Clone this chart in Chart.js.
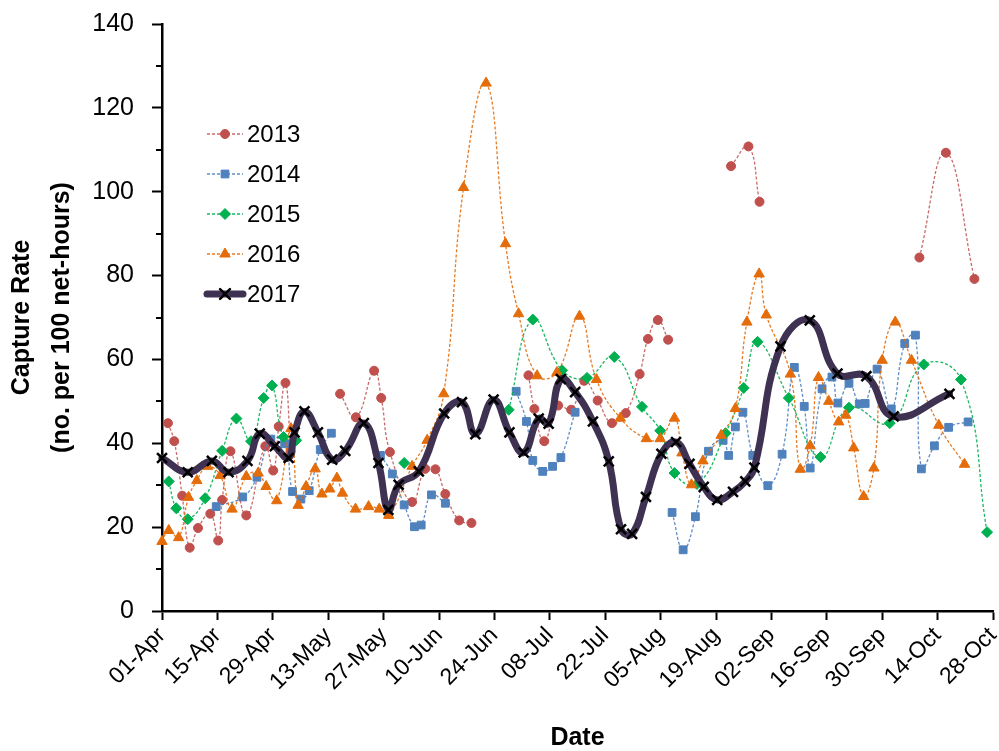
<!DOCTYPE html>
<html>
<head>
<meta charset="utf-8">
<title>Capture Rate</title>
<script src="https://cdn.jsdelivr.net/npm/chart.js@4.4.1/dist/chart.umd.min.js"></script>
<style>
  html, body { margin: 0; padding: 0; background: #fff; }
</style>
</head>
<body>
<canvas id="chart" width="999" height="751"></canvas>
<script>
// x axis: days since 01-Apr, one label every 14 days
const dateLabels = ["01-Apr", "15-Apr", "29-Apr", "13-May", "27-May", "10-Jun", "24-Jun", "08-Jul",
  "22-Jul", "05-Aug", "19-Aug", "02-Sep", "16-Sep", "30-Sep", "14-Oct", "28-Oct"];

// null = no sampling (gap in the line)
const days2013 = [1.5, 3.1, 5.1, 7.0, 9.1, 12.2, 14.2, 15.2, 17.3, 21.3, 26.1, 28.1, 29.5, 31.2, 32.5,
  38,
  45.0, 49.0, 53.6, 55.4, 57.6, 63.2, 66.5, 69.1, 71.6, 75.1, 78.2,
  85,
  92.6, 94.1, 96.6, 100.1, 103.4, 106.7, 110.1, 113.7, 117.2, 120.7, 122.8, 125.3, 127.9,
  135,
  143.8, 148.2, 151.0,
  170,
  191.4, 198.1, 205.3];
const rate2013 = [44.8, 40.5, 27.5, 15.1, 19.8, 23.2, 16.8, 26.5, 38.1, 22.8, 39.3, 33.5, 44.0, 54.4, 38.0,
  null,
  51.8, 46.2, 57.3, 50.8, 37.9, 26.0, 33.9, 33.8, 27.9, 21.6, 21.0,
  null,
  56.2, 48.2, 40.5, 49.0, 48.0, 54.9, 50.2, 44.8, 47.2, 56.5, 64.9, 69.4, 64.7,
  null,
  106.1, 110.8, 97.6,
  null,
  84.3, 109.3, 79.2];

const days2014 = [13.7, 20.4, 24.0, 27.5, 31.0, 33.0, 35.1, 37.2, 40.0, 42.8,
  49,
  55.2, 58.2, 61.2, 63.8, 65.5, 68.1, 71.6,
  80,
  89.5, 92.1, 93.7, 96.2, 98.7, 100.8, 104.4,
  115,
  128.9, 131.7, 134.8, 138.1, 141.8, 143.2, 144.9, 146.8, 149.3, 153.1, 156.7, 159.8, 162.3, 163.8,
  166.8, 169.3, 170.8, 173.6, 176.2, 177.7, 180.7, 184.3, 187.7, 190.4, 191.9, 195.2, 198.8, 203.7];
const rate2014 = [24.9, 27.2, 31.9, 41.0, 39.9, 28.5, 26.7, 28.7, 38.5, 42.4,
  null,
  37.1, 32.7, 25.3, 20.1, 20.5, 27.7, 25.7,
  null,
  52.4, 45.2, 35.9, 33.3, 34.5, 36.6, 47.4,
  null,
  23.5, 14.6, 22.5, 38.1, 40.7, 37.1, 43.9, 47.4, 37.1, 29.9, 37.4, 58.1, 48.8, 34.1,
  53.0, 55.8, 49.6, 54.3, 49.4, 49.5, 57.7, 48.2, 63.8, 65.8, 33.9, 39.4, 43.8, 45.1];

const days2015 = [1.7, 3.6, 6.5, 10.9, 15.2, 18.8, 22.5, 25.7, 27.8, 30.7, 33.9,
  45,
  61.2,
  75,
  87.6, 93.7, 101.1, 107.4, 114.3, 121.3, 125.9, 129.5, 135.2, 142.4, 147.0, 150.5, 158.4,
  166.4, 173.6, 183.9, 192.5, 201.9, 208.5];
const rate2015 = [30.9, 24.5, 21.9, 26.9, 38.2, 45.9, 40.5, 50.8, 53.8, 41.5, 40.7,
  null,
  35.3,
  null,
  48.0, 69.5, 57.4, 55.6, 60.6, 48.7, 43.0, 32.9, 30.3, 42.4, 53.2, 64.2, 50.8,
  36.7, 48.5, 44.8, 58.8, 55.2, 18.8];

const days2016 = [0, 1.7, 4.2, 6.7, 8.8, 11.5, 14.7, 17.7, 21.3, 24.3, 26.3, 29.0, 32.6, 34.4, 36.4,
  38.7, 40.4, 42.4, 44.2, 45.6, 48.9, 52.2, 54.9, 57.3, 63.2, 67.0, 71.2, 76.2, 81.9, 86.8, 90.1,
  94.8, 99.8, 105.5, 109.8, 115.8, 122.4, 125.9, 129.5, 131.4, 133.8, 136.7, 141.3, 144.9, 147.8,
  150.9, 152.7, 158.8, 161.3, 163.8, 165.9, 168.5, 171.0, 172.8, 174.8, 177.3, 179.9, 182.0, 185.3,
  189.4, 196.3, 202.8];
const rate2016 = [16.6, 19.2, 17.5, 27.1, 31.1, 34.5, 32.3, 24.3, 32.1, 32.9, 29.7, 26.3, 43.5, 25.2, 29.7,
  33.9, 27.9, 29.1, 31.7, 28.1, 24.3, 24.9, 24.3, 22.8, 34.5, 40.7, 51.8, 101.0, 125.9, 87.6, 70.9,
  56.1, 56.9, 70.3, 55.2, 46.0, 41.1, 41.1, 46.0, 37.7, 30.1, 35.8, 41.9, 48.3, 68.9,
  80.4, 70.6, 56.5, 33.8, 39.4, 55.7, 50.0, 45.1, 46.7, 38.9, 27.3, 34.1, 59.8, 68.9,
  59.8, 44.3, 35.0];

const days2017 = [0, 6.5, 12.6, 16.8, 21.6, 24.7, 28.5, 32.0, 33.5, 36.0, 39.4, 43.0, 46.3, 51.0,
  54.7, 57.2, 59.8, 64.9, 71.3, 75.8, 79.2, 83.8, 87.8, 91.4, 95.2, 97.7, 100.8, 104.4, 108.9,
  112.9, 116.0, 118.8, 122.3, 126.2, 129.9, 133.3, 136.9, 140.3, 144.3, 147.4, 149.7, 156.3,
  163.7, 170.7, 178.0, 184.9, 199.0];
const rate2017 = [36.5, 33.1, 35.8, 33.1, 35.8, 42.3, 39.3, 36.5, 42.6, 47.6, 42.6, 36.1, 38.2, 44.8,
  35.3, 24.1, 30.1, 33.3, 47.1, 49.8, 42.2, 50.4, 42.6, 37.8, 45.9, 44.7, 55.3, 52.2, 45.2,
  35.7, 19.5, 18.4, 27.2, 37.5, 40.3, 35.1, 29.6, 26.5, 28.4, 30.9, 34.2, 63.1,
  69.3, 56.6, 56.0, 46.4, 51.8];

const FONT = "'Liberation Sans', Arial, sans-serif";
Chart.defaults.font.family = FONT;
Chart.defaults.color = "#000";

const toPoints = (days, vals) => days.map((d, i) => ({ x: d, y: vals[i] }));

// thin dashed series, Excel style
const dashed = (label, days, vals, color, lineColor, style, radius, order) => ({
  label,
  data: toPoints(days, vals),
  borderColor: lineColor,
  borderWidth: 1.3,
  borderDash: [3, 2],
  pointStyle: style,
  pointRadius: radius,
  pointBackgroundColor: color,
  pointBorderColor: color,
  pointBorderWidth: 1,
  tension: 0.45,
  clip: false,
  order,
});

const datasets = [
  dashed("2013", days2013, rate2013, "#C0504D", "rgba(192, 80, 77, 0.85)", "circle", 4.5, 4),
  dashed("2014", days2014, rate2014, "#4F81BD", "rgba(79, 129, 189, 0.9)", "rect", 5.5, 3),
  dashed("2015", days2015, rate2015, "#00B050", "rgba(0, 176, 80, 0.9)", "rectRot", 5.5, 2),
  dashed("2016", days2016, rate2016, "#E46C0A", "rgba(228, 108, 10, 0.9)", "triangle", 6, 1),
  {
    label: "2017",
    data: toPoints(days2017, rate2017),
    borderColor: "#3F3151",
    borderWidth: 7,
    borderCapStyle: "round",
    borderJoinStyle: "round",
    pointStyle: "crossRot",
    pointRadius: 7,
    pointBackgroundColor: "#000",
    pointBorderColor: "#000",
    pointBorderWidth: 2.5,
    tension: 0.45,
    clip: false,
    order: 0,
  },
];

// shorter ticks halfway between the labelled ones
const minorTicks = {
  id: "minorTicks",
  afterDraw(chart) {
    const { ctx, scales: { y } } = chart;
    ctx.save();
    ctx.strokeStyle = "#000";
    ctx.lineWidth = 2;
    for (let v = 10; v < 140; v += 20) {
      const py = Math.round(y.getPixelForValue(v));
      ctx.beginPath();
      ctx.moveTo(y.right - 6, py);
      ctx.lineTo(y.right, py);
      ctx.stroke();
    }
    ctx.restore();
  },
};

// legend sits inside the plot, top left
const seriesLegend = {
  id: "seriesLegend",
  afterDraw(chart) {
    const { ctx, chartArea } = chart;
    const x0 = chartArea.left + 45;
    const x1 = x0 + 36;
    chart.data.datasets.forEach((ds, i) => {
      const yy = chartArea.top + 110 + i * 40;
      ctx.save();
      ctx.strokeStyle = ds.borderColor;
      ctx.lineWidth = ds.borderWidth;
      ctx.lineCap = ds.borderDash ? "butt" : "round";
      ctx.setLineDash(ds.borderDash || []);
      ctx.beginPath();
      ctx.moveTo(x0, yy);
      ctx.lineTo(x1, yy);
      ctx.stroke();
      ctx.setLineDash([]);
      ctx.fillStyle = ds.pointBackgroundColor;
      ctx.strokeStyle = ds.pointBorderColor;
      ctx.lineWidth = ds.pointBorderWidth;
      Chart.helpers.drawPoint(ctx, {
        pointStyle: ds.pointStyle,
        radius: ds.pointRadius,
        borderWidth: ds.pointBorderWidth,
        rotation: 0,
      }, (x0 + x1) / 2, yy);
      ctx.fillStyle = "#000";
      ctx.font = "24px " + FONT;
      ctx.textBaseline = "middle";
      ctx.textAlign = "left";
      ctx.fillText(ds.label, x1 + 4, yy + 1);
      ctx.restore();
    });
  },
};

new Chart(document.getElementById("chart"), {
  type: "line",
  data: { datasets },
  plugins: [minorTicks, seriesLegend],
  options: {
    responsive: false,
    animation: false,
    layout: { autoPadding: false, padding: { top: 24, right: 6, bottom: 0, left: 0 } },
    plugins: {
      legend: { display: false },
      tooltip: { enabled: false },
    },
    scales: {
      x: {
        type: "linear",
        min: 0,
        max: 210,
        ticks: {
          stepSize: 14,
          autoSkip: false,
          maxRotation: 45,
          minRotation: 45,
          padding: 2,
          font: { size: 23 },
          callback: (v) => dateLabels[Math.round(v / 14)],
        },
        grid: { drawOnChartArea: false, tickLength: 9, tickWidth: 2, tickColor: "#000" },
        border: { color: "#000", width: 2.5 },
        title: {
          display: true,
          text: "Date",
          font: { size: 25, weight: "bold", lineHeight: 1 },
          padding: { top: 0, bottom: 0 },
        },
        afterFit(scale) {
          scale.height = 140;
          scale.paddingLeft = 0;
          scale.paddingRight = 0;
        },
      },
      y: {
        min: 0,
        max: 140,
        ticks: { stepSize: 20, padding: 18, font: { size: 25 } },
        grid: { drawOnChartArea: false, tickLength: 10, tickWidth: 2, tickColor: "#000" },
        border: { color: "#000", width: 2.5 },
        title: {
          display: true,
          text: ["Capture Rate", "(no. per 100 net-hours)"],
          font: { size: 25, weight: "bold", lineHeight: 1.6 },
          padding: { top: 2, bottom: 0 },
        },
        afterFit(scale) {
          scale.width = 162;
          scale.paddingTop = 0;
          scale.paddingBottom = 0;
        },
      },
    },
  },
});
</script>
</body>
</html>
